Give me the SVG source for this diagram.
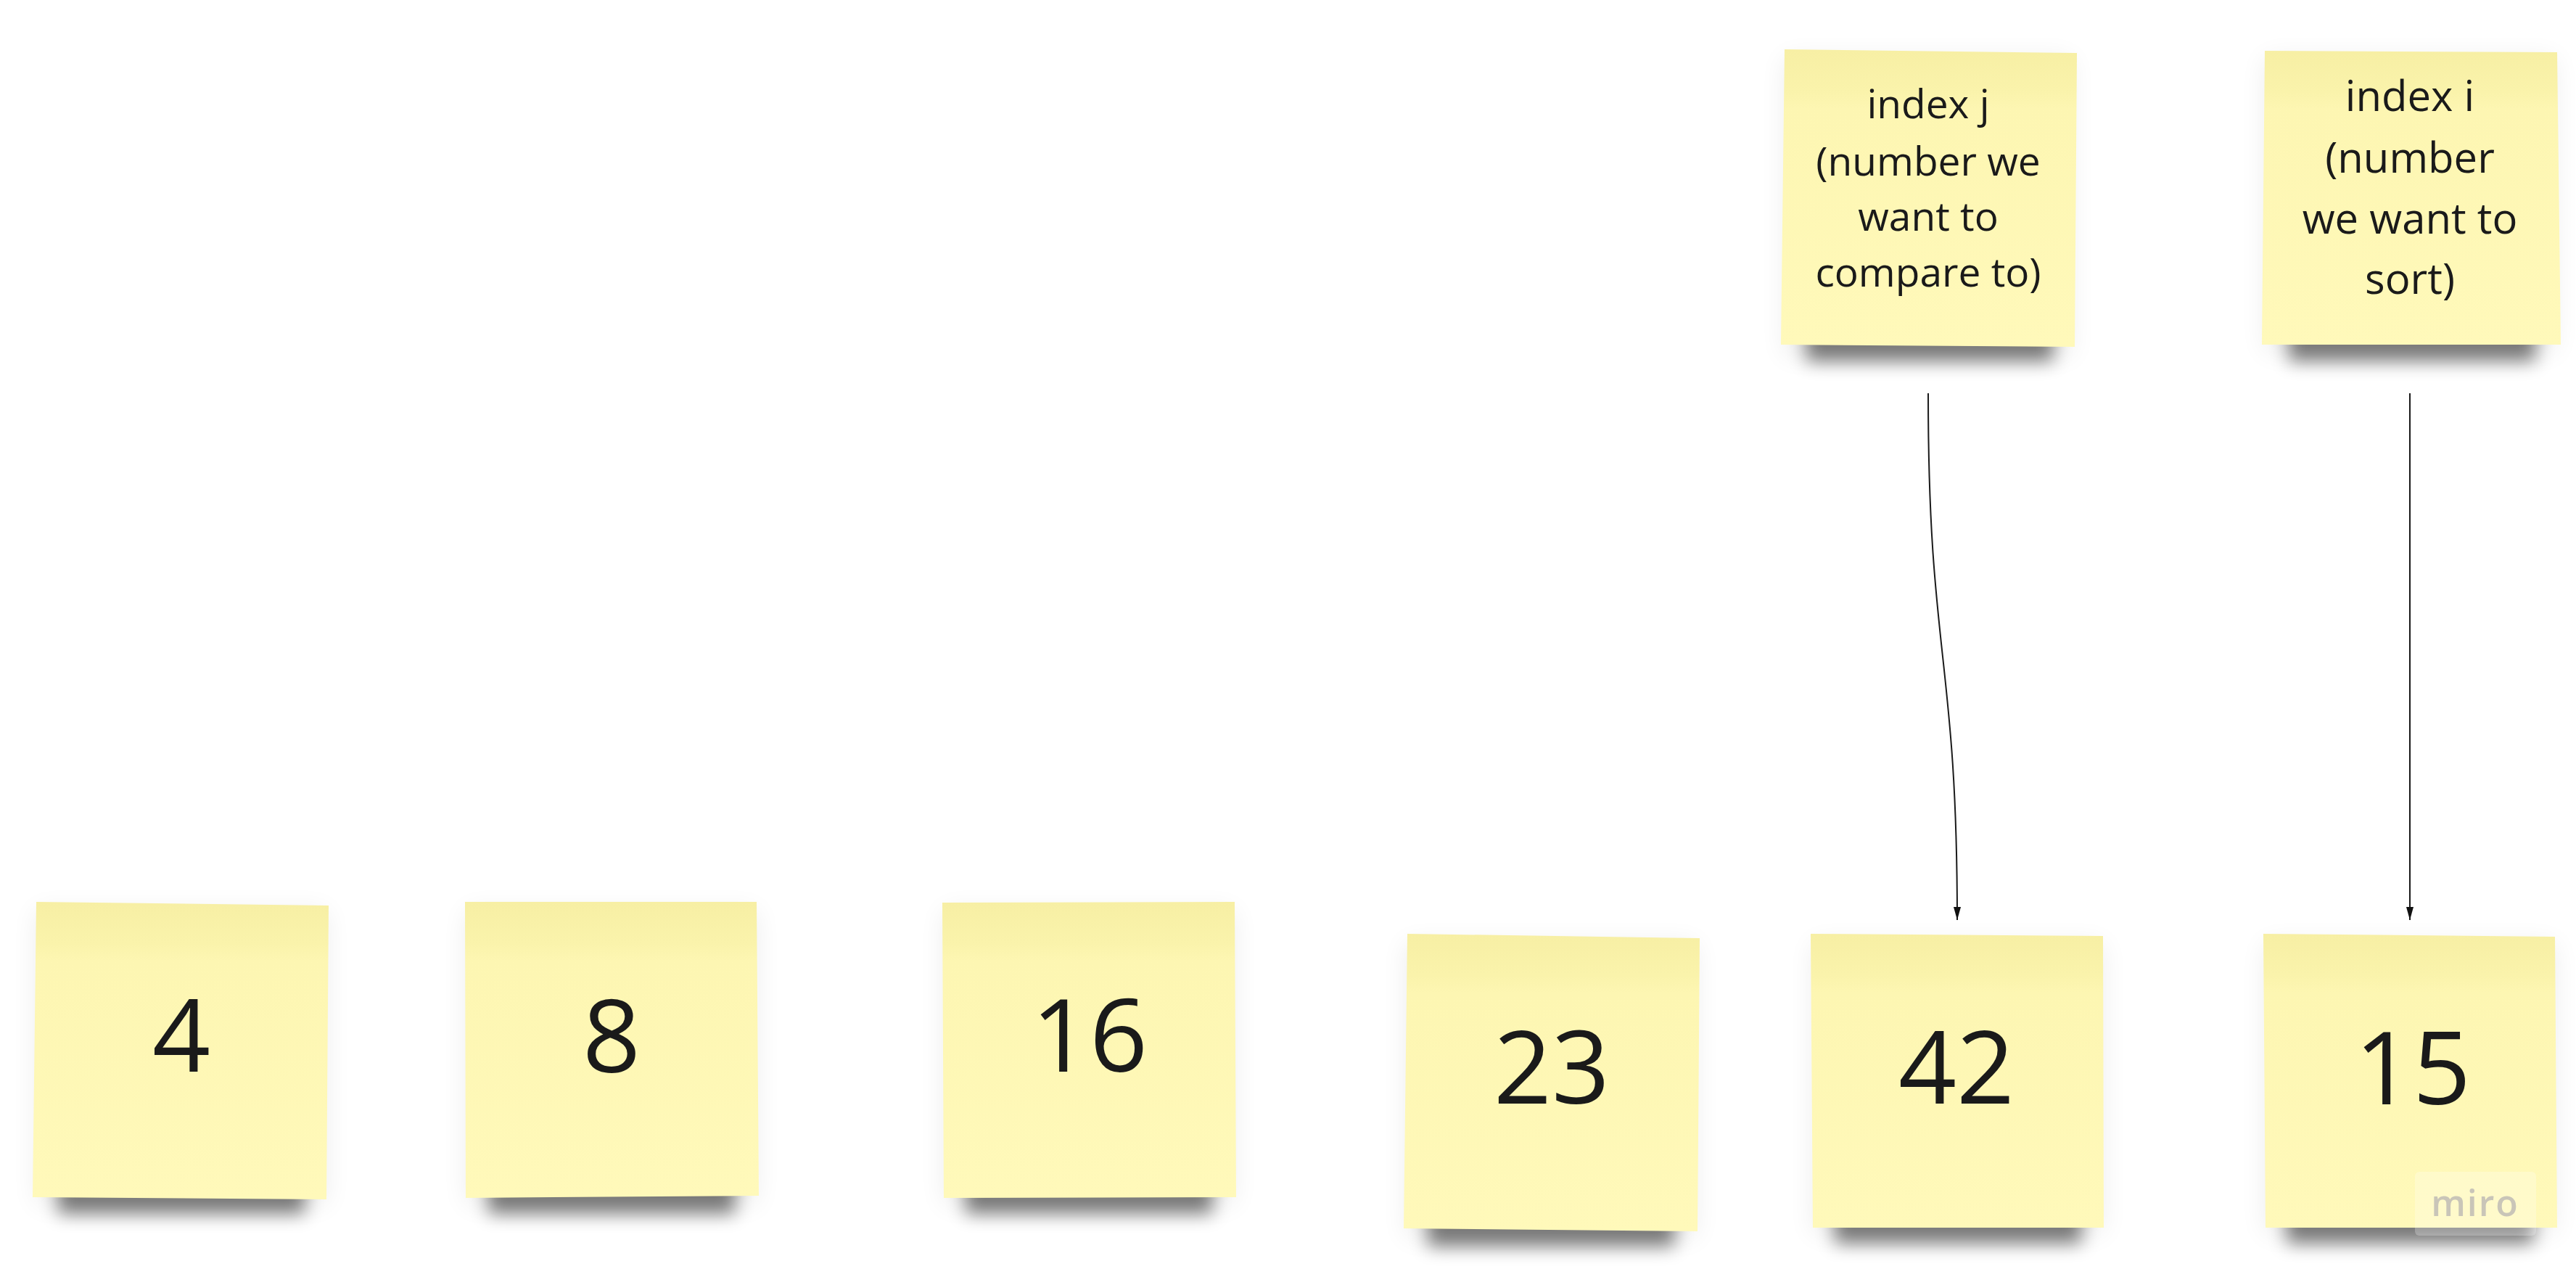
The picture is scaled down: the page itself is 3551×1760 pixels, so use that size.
<svg xmlns="http://www.w3.org/2000/svg" width="3551" height="1760" viewBox="0 0 3551 1760">
<defs>
<style>
.num{font-family:"Open Sans","Noto Sans",sans-serif;font-size:140px;fill:#1a1a1a;text-anchor:middle}
.lbl{font-family:"Open Sans","Noto Sans",sans-serif;fill:#1a1a1a;text-anchor:middle}
.paper{fill:url(#paper)}
.sh{fill:#000;opacity:0.5;filter:url(#blur)}
.halo{fill:#000;opacity:0.07;filter:url(#blurwide)}
.conn{fill:none;stroke:#1a1a1a;stroke-width:2}
</style>
<linearGradient id="paper" x1="0" y1="0" x2="0" y2="1">
<stop offset="0" stop-color="#f7efa4"/>
<stop offset="0.14" stop-color="#faf3ab"/>
<stop offset="0.2" stop-color="#fdf6b2"/>
<stop offset="1" stop-color="#fff9ba"/>
</linearGradient>
<filter id="blur" x="-30%" y="-100%" width="160%" height="300%"><feGaussianBlur stdDeviation="12"/></filter>
<filter id="blurwide" x="-30%" y="-30%" width="160%" height="160%"><feGaussianBlur stdDeviation="18"/></filter>
<marker id="arrow" viewBox="0 0 18 10" refX="18" refY="5" markerWidth="18" markerHeight="10" markerUnits="userSpaceOnUse" orient="auto">
<path d="M0,0 L18,5 L0,10 Z" fill="#111"/>
</marker>
</defs>
<rect width="3551" height="1760" fill="#ffffff"/>

<g id="note-index-j">
<rect class="halo" x="2460" y="80" width="395" height="410"/>
<rect class="sh" x="2490" y="440" width="340" height="58"/>
<polygon class="paper" points="2460,68 2863,73 2860,478 2455,475"/>
<text class="lbl" font-size="55" x="2658" y="163">index j</text>
<text class="lbl" font-size="55" x="2658" y="242">(number we</text>
<text class="lbl" font-size="55" x="2658" y="318">want to</text>
<text class="lbl" font-size="55" x="2658" y="395">compare to)</text>
</g>

<g id="note-index-i">
<rect class="halo" x="3122" y="80" width="400" height="405"/>
<rect class="sh" x="3155" y="440" width="340" height="58"/>
<polygon class="paper" points="3122,70 3525,72 3530,475 3118,475"/>
<text class="lbl" font-size="58" x="3322" y="153">index i</text>
<text class="lbl" font-size="58" x="3322" y="238">(number</text>
<text class="lbl" font-size="58" x="3322" y="322">we want to</text>
<text class="lbl" font-size="58" x="3322" y="405">sort)</text>
</g>

<g id="note-4">
<rect class="halo" x="50" y="1255" width="400" height="405"/>
<rect class="sh" x="80" y="1615" width="340" height="58"/>
<polygon class="paper" points="50,1243 453,1248 450,1653 45,1650"/>
<text class="num" x="250" y="1477">4</text>
</g>

<g id="note-8">
<rect class="halo" x="643" y="1255" width="400" height="405"/>
<rect class="sh" x="673" y="1615" width="340" height="58"/>
<polygon class="paper" points="641,1243 1043,1243 1046,1648 642,1651"/>
<text class="num" x="843" y="1478">8</text>
</g>

<g id="note-16">
<rect class="halo" x="1301" y="1255" width="400" height="405"/>
<rect class="sh" x="1331" y="1615" width="340" height="58"/>
<polygon class="paper" points="1299,1244 1702,1243 1704,1650 1301,1651"/>
<text class="num" x="1502" y="1477">16</text>
</g>

<g id="note-23">
<rect class="halo" x="1938" y="1300" width="400" height="405"/>
<rect class="sh" x="1968" y="1660" width="340" height="58"/>
<polygon class="paper" points="1940,1287 2343,1293 2340,1697 1935,1693"/>
<text class="num" x="2139" y="1521">23</text>
</g>

<g id="note-42">
<rect class="halo" x="2499" y="1300" width="400" height="400"/>
<rect class="sh" x="2529" y="1656" width="340" height="58"/>
<polygon class="paper" points="2496,1287 2899,1290 2900,1692 2499,1692"/>
<text class="num" x="2697" y="1521">42</text>
</g>

<g id="note-15">
<rect class="halo" x="3122" y="1300" width="400" height="400"/>
<rect class="sh" x="3152" y="1656" width="340" height="58"/>
<polygon class="paper" points="3120,1287 3522,1291 3525,1692 3123,1692"/>
<text class="num" x="3326" y="1522">15</text>
</g>

<g id="connectors">
<path class="conn" d="M2658,542 C2658,905 2698,905 2698,1268" marker-end="url(#arrow)"/>
<path class="conn" d="M3322,542 L3322,1268" marker-end="url(#arrow)"/>
</g>

<g id="watermark">
<rect x="3329" y="1615" width="167" height="88" rx="6" fill="#ffffff" opacity="0.25"/>
<text x="3412" y="1676" font-family="Open Sans, sans-serif" font-weight="600" font-size="50" fill="#c9c5b8" text-anchor="middle" letter-spacing="2">miro</text>
</g>
</svg>
